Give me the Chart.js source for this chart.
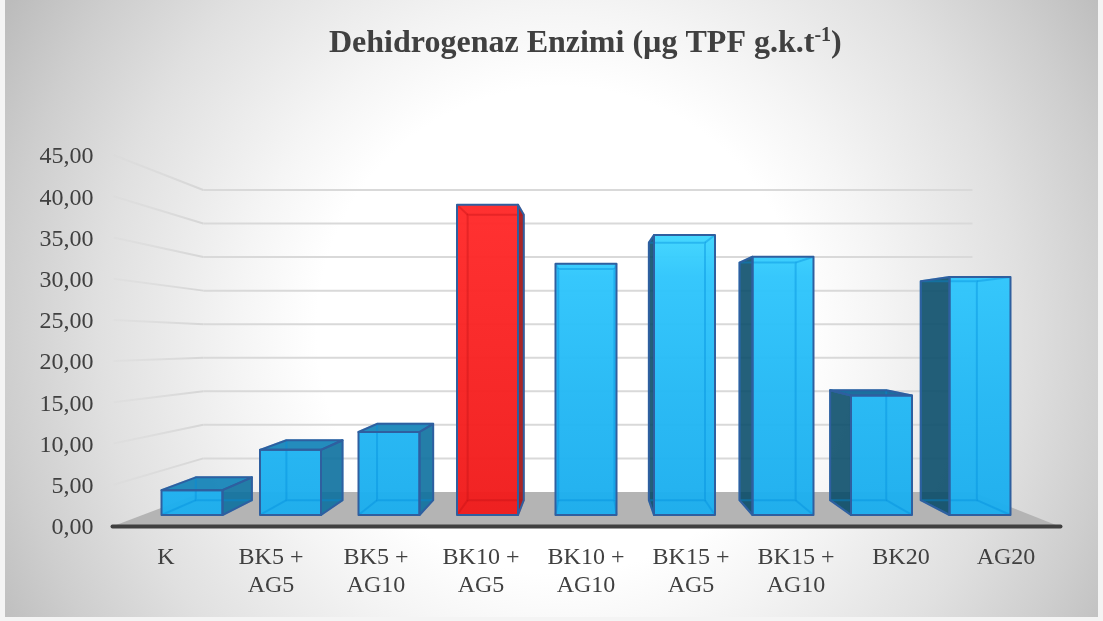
<!DOCTYPE html>
<html>
<head>
<meta charset="utf-8">
<style>html,body{margin:0;padding:0;background:#fff}canvas{display:block}</style>
<script src="https://cdn.jsdelivr.net/npm/chart.js@4/dist/chart.umd.js"></script>
</head>
<body>
<canvas id="c" width="1103" height="621"></canvas>
<script>
const categories = [['K'],['BK5 +','AG5'],['BK5 +','AG10'],['BK10 +','AG5'],['BK10 +','AG10'],['BK15 +','AG5'],['BK15 +','AG10'],['BK20'],['AG20']];
const values = [3.2, 8.4, 10.7, 40.0, 32.4, 36.1, 33.3, 15.4, 30.7];
const highlighted = [false,false,false,true,false,false,false,false,false];
const titleRuns = ['Dehidrogenaz Enzimi (µg TPF g.k.t', '-1', ')'];

const SERIF = '"Liberation Serif", serif';
const barVP = {x:590, y:330, s:0.92};
const wallVP = {x:596, y:343, s:0.814};
const proj = (vp,x,y) => [vp.x+vp.s*(x-vp.x), vp.y+vp.s*(y-vp.y)];
const EDGE = '#2f5f9f';

function poly(ctx, pts){ctx.beginPath();pts.forEach((p,i)=>i?ctx.lineTo(p[0],p[1]):ctx.moveTo(p[0],p[1]));ctx.closePath();}

function boxOf(el){
  const l=el.x-el.width/2,r=el.x+el.width/2,t=el.y,b=el.base;
  return {l,r,t,b,
    tl:[l,t],tr:[r,t],bl:[l,b],br:[r,b],
    TL:proj(barVP,l,t),TR:proj(barVP,r,t),BL:proj(barVP,l,b),BR:proj(barVP,r,b)};
}

const scene = {
  id:'scene',
  beforeDraw(chart){
    const {ctx,scales:{x,y}} = chart;
    ctx.save();
    ctx.fillStyle='#f4f4f4';ctx.fillRect(0,0,chart.width,chart.height);
    const g=ctx.createRadialGradient(560,330,0,560,330,640);
    g.addColorStop(0,'#ffffff');g.addColorStop(.38,'#ffffff');g.addColorStop(.5,'#f5f5f5');
    g.addColorStop(.72,'#e0e0e0');g.addColorStop(.87,'#cecece');g.addColorStop(1,'#bcbcbc');
    ctx.fillStyle=g;ctx.fillRect(5,0,1093,617);
    const y0=y.getPixelForValue(0);
    const fl=[x.left,y0],fr=[x.right,y0];
    ctx.fillStyle='#b4b4b4';
    poly(ctx,[fl,fr,proj(wallVP,fr[0],fr[1]),proj(wallVP,fl[0],fl[1])]);ctx.fill();
    y.ticks.forEach(t=>{
      const py=y.getPixelForValue(t.value);
      const b=proj(wallVP,x.left,py);
      const br=proj(wallVP,x.right,py);
      if(t.value!==0){
        const lg=ctx.createLinearGradient(x.left,0,b[0],0);
        lg.addColorStop(0,'rgba(214,214,214,0.25)');lg.addColorStop(1,'rgba(214,214,214,1)');
        ctx.strokeStyle=lg;ctx.lineWidth=2;
        ctx.beginPath();ctx.moveTo(x.left,py);ctx.lineTo(b[0],b[1]);ctx.stroke();
        ctx.strokeStyle='#d9d9d9';
        ctx.beginPath();ctx.moveTo(b[0],b[1]);ctx.lineTo(br[0],b[1]);ctx.stroke();
      }
    });
    ctx.restore();
  },
  beforeDatasetsDraw(chart){
    const {ctx}=chart;const meta=chart.getDatasetMeta(0);
    ctx.save();
    meta.data.forEach((el,i)=>{
      const c=boxOf(el);const red=highlighted[i];
      if(c.r<barVP.x){
        ctx.fillStyle=red?'rgba(165,25,25,.95)':'rgba(12,112,158,.9)';
        poly(ctx,[c.tr,c.TR,c.BR,c.br]);ctx.fill();
      }
      if(c.l>barVP.x){
        ctx.fillStyle='rgba(6,74,104,.88)';
        poly(ctx,[c.tl,c.TL,c.BL,c.bl]);ctx.fill();
      }
      if(c.TL[1]<c.t){
        ctx.fillStyle=red?'rgba(200,30,30,.95)':(c.r<barVP.x?'rgba(12,128,182,.9)':'rgba(10,100,150,.92)');
        poly(ctx,[c.tl,c.tr,c.TR,c.TL]);ctx.fill();
      }
    });
    ctx.restore();
  },
  afterDatasetsDraw(chart){
    const {ctx,scales:{x,y}}=chart;const meta=chart.getDatasetMeta(0);
    ctx.save();
    meta.data.forEach((el,i)=>{
      const c=boxOf(el);const red=highlighted[i];
      ctx.strokeStyle=red?'rgba(190,15,20,.35)':'rgba(0,140,220,.4)';
      ctx.lineWidth=2;
      poly(ctx,[c.TL,c.TR,c.BR,c.BL]);ctx.stroke();
      [[c.tl,c.TL],[c.tr,c.TR],[c.bl,c.BL],[c.br,c.BR]].forEach(([a,b])=>{
        ctx.beginPath();ctx.moveTo(a[0],a[1]);ctx.lineTo(b[0],b[1]);ctx.stroke();
      });
      ctx.strokeStyle=EDGE;ctx.lineJoin='round';
      if(c.r<barVP.x){poly(ctx,[c.tr,c.TR,c.BR,c.br]);ctx.stroke();}
      if(c.l>barVP.x){poly(ctx,[c.tl,c.TL,c.BL,c.bl]);ctx.stroke();}
      if(c.TL[1]<c.t){poly(ctx,[c.tl,c.tr,c.TR,c.TL]);ctx.stroke();}
      ctx.strokeRect(c.l,c.t,c.r-c.l,c.b-c.t);
    });
    const y0=y.getPixelForValue(0);
    ctx.strokeStyle='#404040';ctx.lineWidth=4;ctx.lineCap='round';
    ctx.beginPath();ctx.moveTo(x.left-1,y0+.5);ctx.lineTo(x.right+2,y0+.5);ctx.stroke();
    ctx.restore();
  },
  afterDraw(chart){
    const {ctx}=chart;
    ctx.save();
    ctx.fillStyle='#404040';ctx.textBaseline='alphabetic';ctx.textAlign='left';
    let px=329;
    ctx.font='bold 32px '+SERIF;
    ctx.fillText(titleRuns[0],px,52);px+=ctx.measureText(titleRuns[0]).width;
    ctx.font='bold 20px '+SERIF;
    ctx.fillText(titleRuns[1],px,41);px+=ctx.measureText(titleRuns[1]).width;
    ctx.font='bold 32px '+SERIF;
    ctx.fillText(titleRuns[2],px,52);
    ctx.restore();
  }
};

new Chart(document.getElementById('c'),{
  type:'bar',
  plugins:[scene],
  data:{
    labels:categories,
    datasets:[{
      label:'Dehidrogenaz Enzimi',
      xAxisID:'xBar',yAxisID:'yBar',
      data:values.map((v,i)=>({x:i,y:v})),
      barThickness:61,
      borderWidth:0,
      backgroundColor(c){
        const chart=c.chart;
        if(!chart.chartArea||!chart.scales.yBar) return '#22b5f2';
        const s=chart.scales.yBar;
        const g=chart.ctx.createLinearGradient(0,s.getPixelForValue(38),0,s.getPixelForValue(0));
        if(highlighted[c.dataIndex]){
          g.addColorStop(0,'rgba(255,42,42,.97)');g.addColorStop(1,'rgba(240,28,28,.97)');
        }else{
          g.addColorStop(0,'rgba(70,220,255,.97)');g.addColorStop(.19,'rgba(48,198,252,.97)');
          g.addColorStop(.61,'rgba(36,184,244,.97)');g.addColorStop(1,'rgba(28,174,238,.97)');
        }
        return g;
      }
    }]
  },
  options:{
    responsive:false,animation:false,
    layout:{padding:{top:155,right:44.5,left:0,bottom:0}},
    plugins:{legend:{display:false},tooltip:{enabled:false},title:{display:false}},
    scales:{
      x:{type:'category',offset:true,grid:{display:false},border:{display:false},
        afterFit(s){s.height=95;},
        ticks:{autoSkip:false,maxRotation:0,minRotation:0,padding:10,color:'#404040',
          font:{family:SERIF,size:24,lineHeight:1.17}}},
      y:{type:'linear',position:'left',min:0,max:45,grid:{display:false},border:{display:false},
        afterFit(s){s.width=113.5;},
        ticks:{stepSize:5,padding:12,labelOffset:2,color:'#404040',font:{family:SERIF,size:24},
          callback:v=>v.toFixed(2).replace('.',',')}},
      xBar:{type:'linear',display:false,offset:false,min:-0.797,max:8.797},
      yBar:{type:'linear',display:false,min:-1.42,max:46.42}
    }
  }
});
</script>
</body>
</html>
